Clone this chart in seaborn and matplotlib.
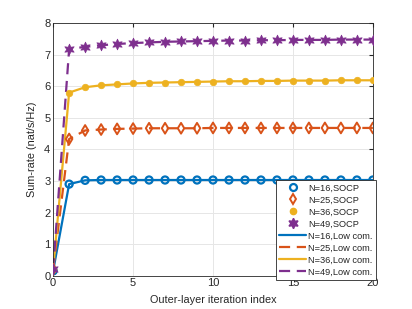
import numpy as np
import pandas as pd
import seaborn as sns
import matplotlib.pyplot as plt
from matplotlib.lines import Line2D

# ---- data ----
iters = list(range(21))
n16 = [0.15, 2.90, 3.02, 3.03, 3.03, 3.03, 3.03, 3.03, 3.03, 3.03, 3.03,
       3.03, 3.03, 3.03, 3.03, 3.03, 3.03, 3.03, 3.03, 3.03, 3.03]
n25 = [0.20, 4.33, 4.60, 4.63, 4.65, 4.66, 4.67, 4.67, 4.67, 4.67, 4.68,
       4.68, 4.68, 4.68, 4.68, 4.68, 4.68, 4.68, 4.68, 4.68, 4.68]
n36 = [0.20, 5.80, 5.97, 6.03, 6.06, 6.09, 6.11, 6.12, 6.13, 6.14, 6.15,
       6.16, 6.16, 6.17, 6.17, 6.18, 6.18, 6.18, 6.19, 6.19, 6.19]
n49 = [0.20, 7.18, 7.25, 7.30, 7.34, 7.37, 7.39, 7.41, 7.42, 7.43, 7.44,
       7.45, 7.45, 7.46, 7.46, 7.47, 7.47, 7.47, 7.48, 7.48, 7.48]
labels_n = ['N=16', 'N=25', 'N=36', 'N=49']
series = [n16, n25, n36, n49]

colors = ['#0072BD', '#D95319', '#EDB120', '#7E2F8E']
linestyles = ['-', (0, (5, 3)), '-', (0, (5, 3))]

sns.set_style("whitegrid")
plt.rcParams['font.family'] = ['Liberation Sans', 'DejaVu Sans']

fig, ax = plt.subplots(figsize=(4.12, 3.09), dpi=100)
fig.subplots_adjust(left=0.129, right=0.905, top=0.925, bottom=0.108)

# low complexity lines
for name, vals, c, ls in zip(labels_n, series, colors, linestyles):
    df = pd.DataFrame({'iter': iters, 'rate': vals})
    sns.lineplot(data=df, x='iter', y='rate', ax=ax, color=c, linewidth=1.6,
                 linestyle=ls, zorder=2)

# SOCP markers
marker_specs = [
    dict(marker='o', s=26, facecolors='none', edgecolors=colors[0], linewidths=1.6),
    dict(marker='d', s=30, facecolors='none', edgecolors=colors[1], linewidths=1.4),
    dict(marker='o', s=22, facecolors=colors[2], edgecolors=colors[2], linewidths=0.5),
    dict(marker=(6, 1, 0), s=60, facecolors=colors[3], edgecolors=colors[3], linewidths=0.5),
]
for vals, spec in zip(series, marker_specs):
    df = pd.DataFrame({'iter': iters, 'rate': vals})
    sns.scatterplot(data=df, x='iter', y='rate', ax=ax, zorder=3, **spec)

ax.set_xlim(0, 20)
ax.set_ylim(0, 8)
ax.set_xticks([0, 5, 10, 15, 20])
ax.set_yticks(range(9))
ax.set_xlabel('Outer-layer iteration index', fontsize=7.8, color='#262626', labelpad=5)
ax.set_ylabel('Sum-rate (nat/s/Hz)', fontsize=7.8, color='#262626', labelpad=5)
ax.tick_params(axis='both', labelsize=8, colors='#262626', direction='in',
               length=3, pad=2, top=True, right=True)
ax.grid(True, color='#e6e6e6', linewidth=0.7)
for sp in ax.spines.values():
    sp.set_color('#262626')
    sp.set_linewidth(0.6)

handles = [
    Line2D([], [], linestyle='none', marker='o', markersize=5, markerfacecolor='none',
           markeredgecolor=colors[0], markeredgewidth=1.6),
    Line2D([], [], linestyle='none', marker='d', markersize=5.5, markerfacecolor='none',
           markeredgecolor=colors[1], markeredgewidth=1.4),
    Line2D([], [], linestyle='none', marker='o', markersize=4.5, markerfacecolor=colors[2],
           markeredgecolor=colors[2]),
    Line2D([], [], linestyle='none', marker=(6, 1, 0), markersize=7.5,
           markerfacecolor=colors[3], markeredgecolor=colors[3]),
]
for c, ls in zip(colors, linestyles):
    handles.append(Line2D([], [], color=c, linestyle=ls, linewidth=1.6))
leg_labels = [n + ',SOCP' for n in labels_n] + [n + ',Low com.' for n in labels_n]
leg = ax.legend(handles, leg_labels, loc='lower right', bbox_to_anchor=(1.01, -0.016),
                fontsize=6.7, frameon=True, fancybox=False, edgecolor='#262626',
                framealpha=1, borderpad=0.35, labelspacing=0.32, handlelength=2.9,
                handletextpad=0.2, borderaxespad=0.0)
leg.get_frame().set_linewidth(0.6)

plt.savefig('out.png', dpi=100)
